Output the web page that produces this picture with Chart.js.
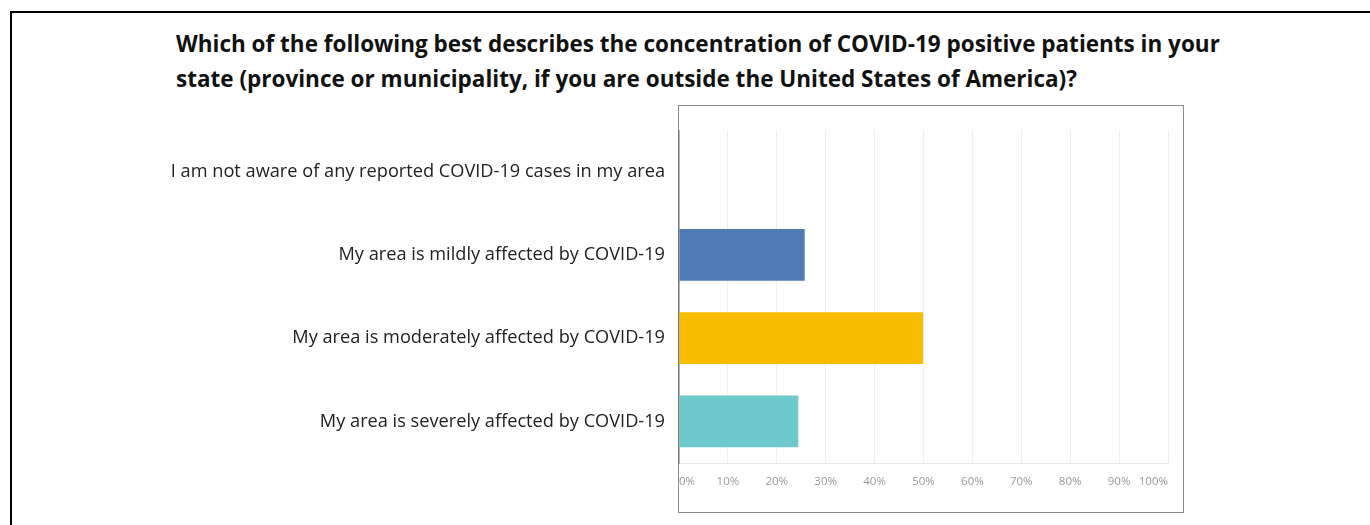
<!DOCTYPE html>
<html lang="en">
<head>
    <meta charset="UTF-8">
    <title>COVID-19 concentration</title>
    <style>
        body { margin: 0; width: 1370px; height: 525px; background: #fff; overflow: hidden; position: relative; }
        .frame { position: absolute; left: 10px; top: 11px; width: 1370px; height: 600px; border-left: 2px solid #000; border-top: 2px solid #000; }
        .titulo { position: absolute; left: 176px; top: 26px; font-family: "Open Sans", sans-serif; font-weight: bold; font-size: 22.5px; line-height: 35px; color: #111; white-space: nowrap; }
        .caixa { position: absolute; left: 678px; top: 105px; width: 504px; height: 406px; border: 1.5px solid #8c8c8c; }
        .grafico { position: absolute; left: 0; top: 130px; width: 1183px; height: 382px; }
    </style>
</head>
<body>
    <div class="frame"></div>
    <div class="titulo">Which of the following best describes the concentration of COVID-19 positive patients in your<br>state (province or municipality, if you are outside the United States of America)?</div>
    <div class="caixa"></div>
    <div class="grafico">
        <canvas id="grafico1"></canvas>
    </div>

    <script src="https://cdn.jsdelivr.net/npm/chart.js"></script>
    <script>
        // dados
        const categorias = [
            'I am not aware of any reported COVID-19 cases in my area',
            'My area is mildly affected by COVID-19',
            'My area is moderately affected by COVID-19',
            'My area is severely affected by COVID-19'
        ]
        const percentuais = [0, 25.7, 49.9, 24.4]
        const cores = ['#4e7ab5', '#4e7ab5', '#f8bc00', '#6dc9cb']
        const ticksX = [0, 10, 20, 30, 40, 50, 60, 70, 80, 90, 100]

        const ctx = document.getElementById('grafico1')

        new Chart(ctx, {
            type: 'bar',
            data: {
                labels: categorias,
                datasets: [{
                    data: percentuais,
                    backgroundColor: cores,
                    borderWidth: 0,
                    barPercentage: 0.62,
                    categoryPercentage: 1
                }]
            },
            options: {
                indexAxis: 'y',
                responsive: true,
                maintainAspectRatio: false,
                animation: false,
                layout: { padding: { top: 0, right: 15, bottom: 0, left: 0 } },
                plugins: {
                    legend: { display: false },
                    tooltip: { enabled: false }
                },
                scales: {
                    x: {
                        min: 0,
                        max: 100,
                        afterBuildTicks: scale => { scale.ticks = ticksX.map(v => ({ value: v })) },
                        afterFit: scale => {
                            scale.height = 49
                            scale.paddingLeft = 0
                            scale.paddingRight = 0
                        },
                        grid: { color: '#efefef', lineWidth: 1, drawTicks: false },
                        border: { color: '#e6e6e6' },
                        ticks: {
                            padding: 12,
                            align: 'inner',
                            color: '#999',
                            font: { family: 'Open Sans', size: 11.5 },
                            callback: v => v + '%'
                        }
                    },
                    y: {
                        afterFit: scale => {
                            scale.width = 679
                            scale.paddingTop = 0
                            scale.paddingBottom = 0
                        },
                        grid: { display: false, drawTicks: false },
                        border: { color: '#7a7a7a', width: 1.5 },
                        ticks: {
                            padding: 14,
                            color: '#222',
                            font: { family: 'Open Sans', size: 18.2 }
                        }
                    }
                }
            }
        })
    </script>
</body>
</html>
